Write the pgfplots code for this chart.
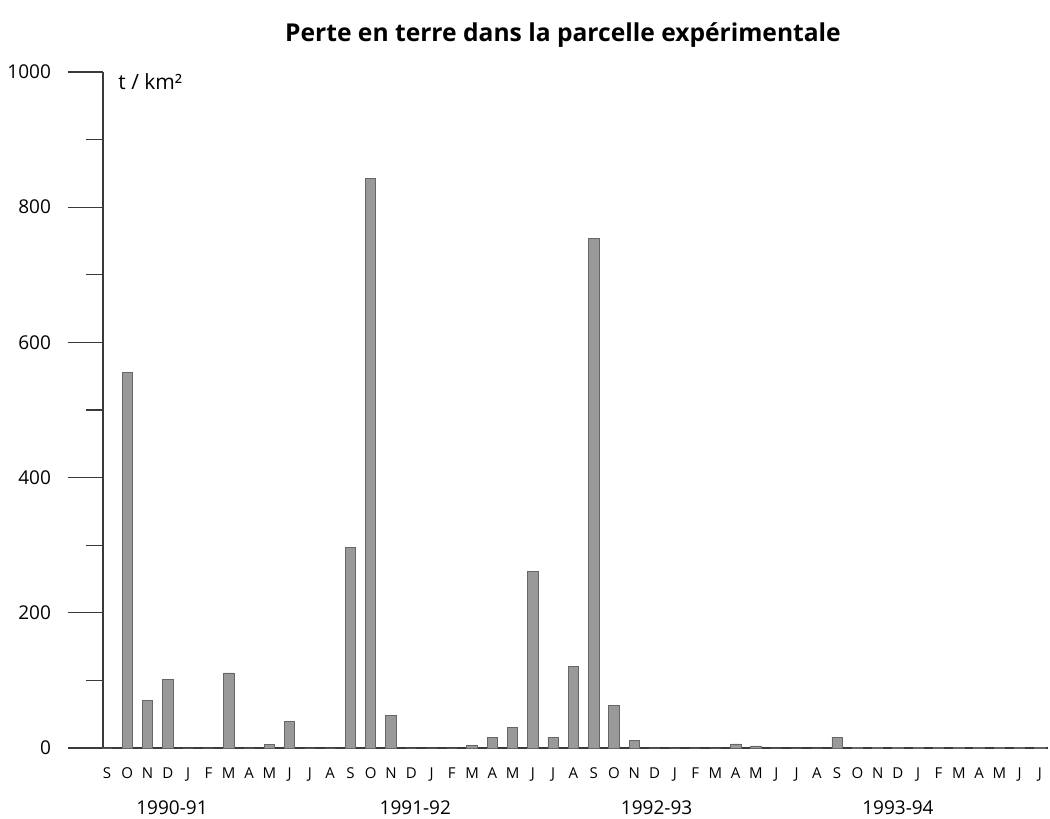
\documentclass[border=0pt]{standalone}
\usepackage{fontspec}
\setmainfont{Open Sans}
\usepackage{pgfplots}
\usepackage{pgfplotstable}
\pgfplotsset{compat=1.18}
\definecolor{barfill}{HTML}{999999}
\definecolor{baredge}{HTML}{666666}
\definecolor{axisgray}{HTML}{3A3A3A}

% monthly soil loss, t/km2, Sept 1990 to July 1994
\pgfplotstableread{
i v
0 0
1 555
2 71
3 102
4 0
5 0
6 111
7 0
8 5
9 39
10 0
11 0
12 297
13 842
14 48
15 0
16 0
17 0
18 4
19 16
20 31
21 261
22 15
23 120
24 754
25 63
26 11
27 0
28 0
29 0
30 0
31 6
32 3
33 0
34 0
35 0
36 16
37 1
38 1
39 1
40 1
41 1
42 1
43 1
44 1
45 1
46 1
}\perte

\begin{document}
\begin{tikzpicture}
\path[use as bounding box] (-51.5pt,-35.5pt) rectangle (473.5pt,374pt);
\begin{axis}[
  scale only axis, width=472.5pt, height=338pt,
  xmin=-0.2, xmax=46.4, ymin=0, ymax=1000,
  axis x line=bottom, axis y line=left,
  axis line style={-, axisgray, line width=0.6pt},
  ytick={0,200,...,1000}, minor ytick={100,300,...,900},
  tick align=outside, major tick length=17.5pt, minor tick length=8.5pt,
  tick style={axisgray, line width=0.6pt},
  xtick={0,...,46},
  xticklabels={S,O,N,D,J,F,M,A,M,J,J,A,S,O,N,D,J,F,M,A,M,J,J,A,S,O,N,D,J,F,M,A,M,J,J,A,S,O,N,D,J,F,M,A,M,J,J},
  x tick style={draw=none},
  xticklabel style={font=\fontsize{7.5}{8}\selectfont, yshift=11pt},
  yticklabel style={font=\fontsize{9.5}{11}\selectfont, xshift=-5pt},
  /pgf/number format/assume math mode=true,
  /pgf/number format/1000 sep={},
  ybar, bar width=5.2pt, bar shift=0pt,
  clip=false,
]
\addplot[fill=barfill, draw=baredge, line width=0.4pt] table[x=i,y=v]{\perte};
\node[font=\fontsize{9.5}{11}\selectfont] at (axis cs:3.2,0) [yshift=-30pt] {1990-91};
\node[font=\fontsize{9.5}{11}\selectfont] at (axis cs:15.2,0) [yshift=-30pt] {1991-92};
\node[font=\fontsize{9.5}{11}\selectfont] at (axis cs:27.1,0) [yshift=-30pt] {1992-93};
\node[font=\fontsize{9.5}{11}\selectfont] at (axis cs:39.0,0) [yshift=-30pt] {1993-94};
\end{axis}
\node[font=\bfseries\fontsize{12.3}{14}\selectfont] at (230pt,356.5pt) {Perte en terre dans la parcelle expérimentale};
\node[anchor=west, inner sep=0pt, font=\fontsize{10.5}{12}\selectfont] at (7.5pt,333pt) {t / km²};
\end{tikzpicture}
\end{document}
